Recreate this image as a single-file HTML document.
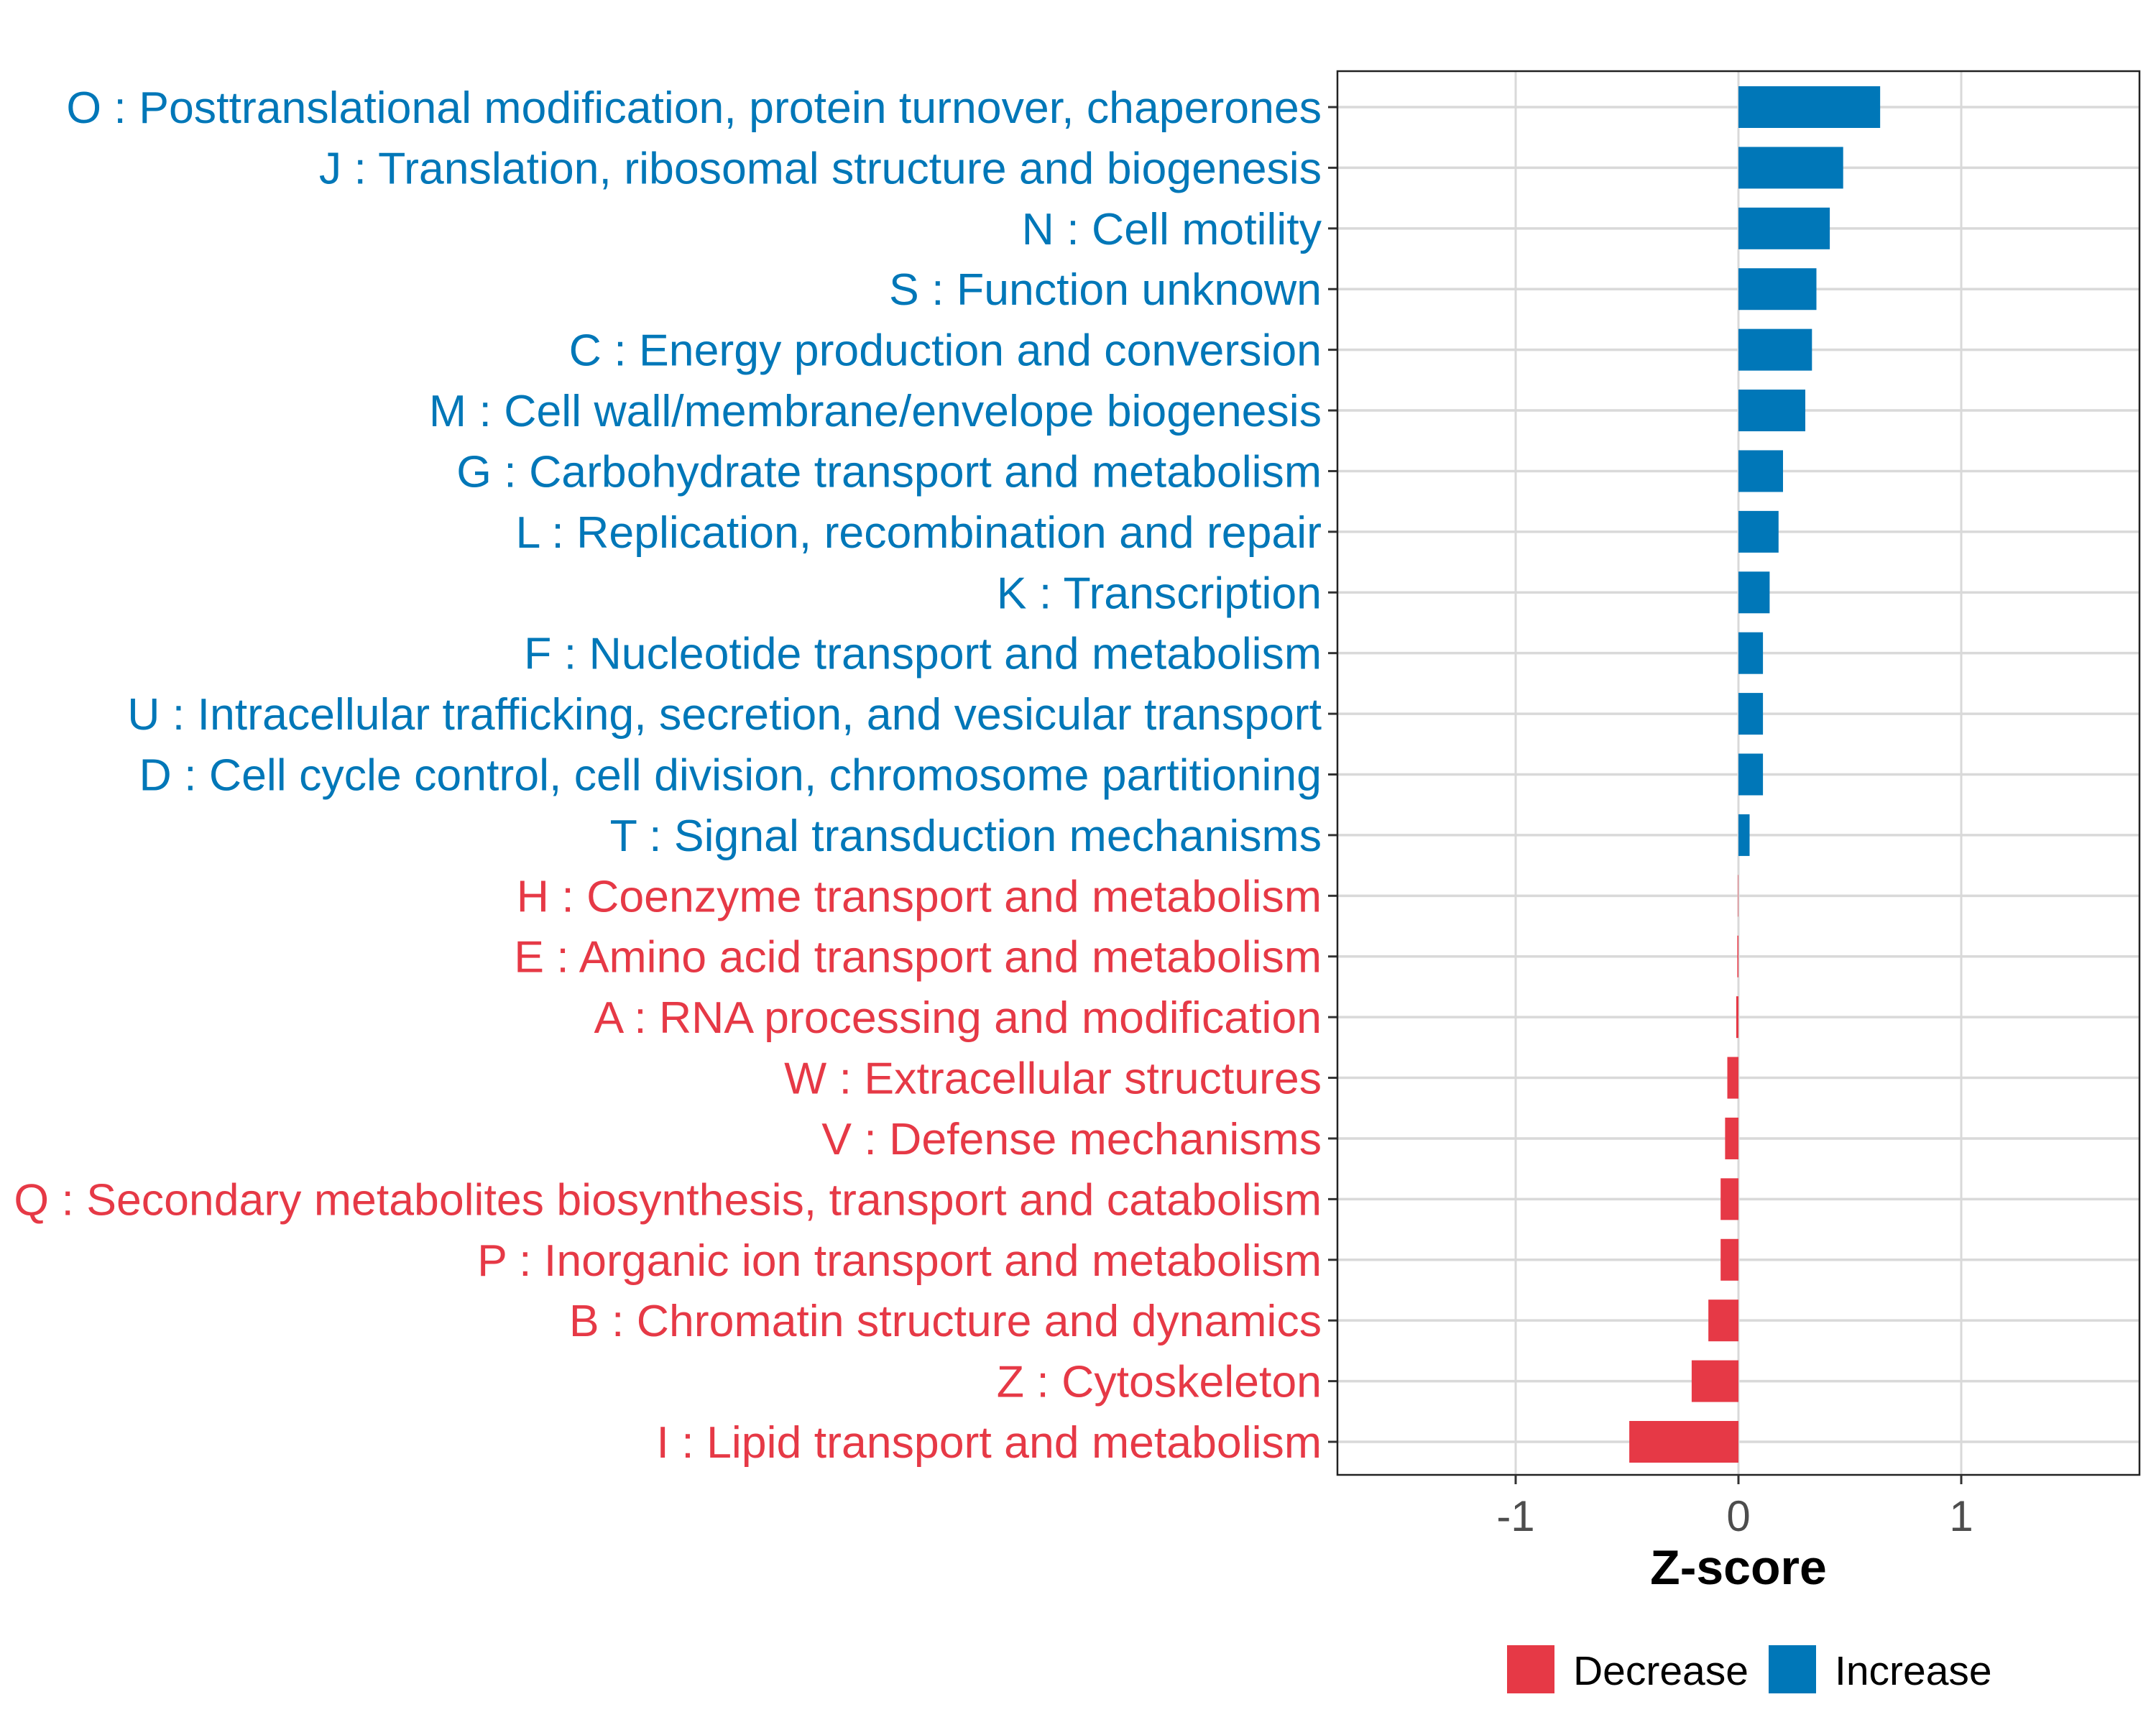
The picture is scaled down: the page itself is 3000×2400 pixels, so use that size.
<!DOCTYPE html>
<html><head><meta charset="utf-8"><style>html,body{margin:0;padding:0;background:#fff}svg{display:block}</style></head>
<body>
<svg id="chart" width="3000" height="2400" viewBox="0 0 3000 2400" xmlns="http://www.w3.org/2000/svg" font-family="'Liberation Sans', Arial, sans-serif"></svg>
<script>
const categories = ["O : Posttranslational modification, protein turnover, chaperones","J : Translation, ribosomal structure and biogenesis","N : Cell motility","S : Function unknown","C : Energy production and conversion","M : Cell wall/membrane/envelope biogenesis","G : Carbohydrate transport and metabolism","L : Replication, recombination and repair","K : Transcription","F : Nucleotide transport and metabolism","U : Intracellular trafficking, secretion, and vesicular transport","D : Cell cycle control, cell division, chromosome partitioning","T : Signal transduction mechanisms","H : Coenzyme transport and metabolism","E : Amino acid transport and metabolism","A : RNA processing and modification","W : Extracellular structures","V : Defense mechanisms","Q : Secondary metabolites biosynthesis, transport and catabolism","P : Inorganic ion transport and metabolism","B : Chromatin structure and dynamics","Z : Cytoskeleton","I : Lipid transport and metabolism"];
const zscores = [0.636,0.47,0.41,0.35,0.33,0.30,0.20,0.18,0.14,0.11,0.11,0.11,0.05,-0.002,-0.005,-0.01,-0.05,-0.06,-0.08,-0.08,-0.135,-0.21,-0.49];
const xTicks = [-1,0,1];
const xTickLabels = ["-1","0","1"];
const legendLabels = ["Decrease","Increase"];

const NS="http://www.w3.org/2000/svg";
const svg=document.getElementById('chart');
const BLUE="#0077B8", RED="#E63946";
const L=1861,R=2977,T=99,B=2052;
const xMin=-1.8,xMax=1.8;
const x=v=>L+(v-xMin)/(xMax-xMin)*(R-L);
const rowTop=149,rowBot=2006;
const y=i=>rowTop+i*(rowBot-rowTop)/(categories.length-1);
const barH=58;
function mk(tag,attrs,parent){const e=document.createElementNS(NS,tag);for(const k in attrs)e.setAttribute(k,attrs[k]);(parent||svg).appendChild(e);return e;}

const grid=mk('g',{});


xTicks.forEach(t=>{mk('line',{x1:x(t),x2:x(t),y1:T,y2:B,stroke:'#d9d9d9','stroke-width':3},grid);});
categories.forEach((c,i)=>{mk('line',{x1:L,x2:R,y1:y(i),y2:y(i),stroke:'#d9d9d9','stroke-width':3.5},grid);});

categories.forEach((c,i)=>{
  const v=zscores[i];
  const col=v>=0?BLUE:RED;
  const r=mk('rect',{x:Math.min(x(0),x(v)),y:y(i)-barH/2,width:Math.abs(x(v)-x(0)),height:barH,fill:col});
  
  
  mk('line',{x1:L-13,x2:L,y1:y(i),y2:y(i),stroke:'#333','stroke-width':3});
  const tx=mk('text',{x:L-22,y:y(i)+22,'text-anchor':'end','font-size':62.6,fill:col});
  tx.textContent=c;
  
  
});

const frame=mk('rect',{x:L,y:T,width:R-L,height:B-T,fill:'none',stroke:'#222','stroke-width':2.5});



xTicks.forEach((t,i)=>{
  mk('line',{x1:x(t),x2:x(t),y1:B,y2:B+13,stroke:'#333','stroke-width':3});
  const tl=mk('text',{x:x(t),y:B+78,'text-anchor':'middle','font-size':60,fill:'#4d4d4d'});
  tl.textContent=xTickLabels[i];
  
  
});

const xt=mk('text',{x:x(0),y:2204,'text-anchor':'middle','font-size':68,'font-weight':'bold',fill:'#000'});
xt.textContent='Z-score';



const legendX=[2097,2461];
const legendCol=[RED,BLUE];
legendLabels.forEach((lab,i)=>{
  const g=mk('g',{});
  
  
  mk('rect',{x:legendX[i],y:2289,width:66,height:67,fill:legendCol[i]},g);
  const t=mk('text',{x:legendX[i]+92,y:2344,'font-size':57,fill:'#000'},g);
  t.textContent=lab;
});
</script>
</body></html>
